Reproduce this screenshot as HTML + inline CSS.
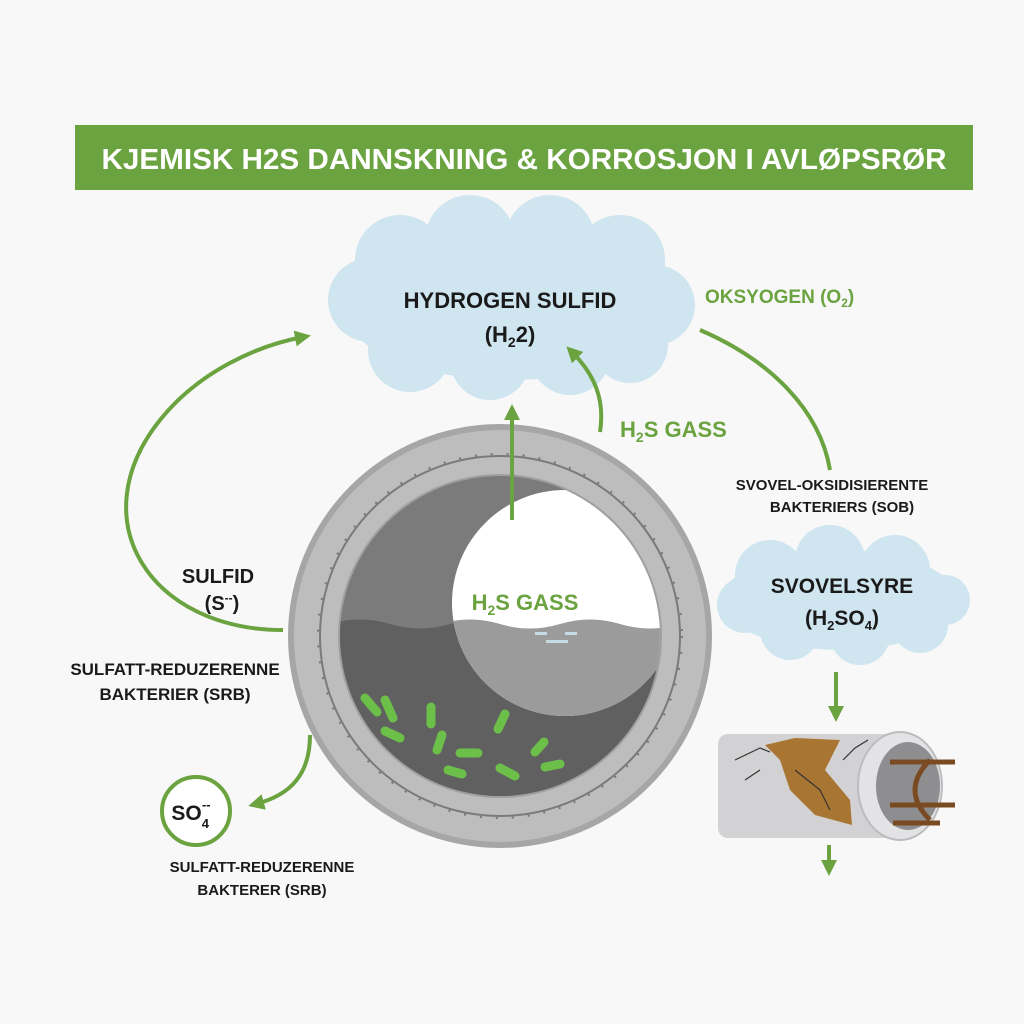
<!DOCTYPE html>
<html><head><meta charset="utf-8"><style>
html,body{margin:0;padding:0;background:#f8f8f8;}
svg{display:block}
text{font-family:"Liberation Sans",sans-serif;font-weight:bold;}
</style></head><body>
<svg width="1024" height="1024" viewBox="0 0 1024 1024" xmlns="http://www.w3.org/2000/svg">
<defs>
<marker id="ah" markerWidth="16" markerHeight="16" refX="8" refY="8" orient="auto" markerUnits="userSpaceOnUse" viewBox="0 0 16 16"><path d="M0,0 L16,8 L0,16 z" fill="#6aa33f"/></marker>
<clipPath id="inner"><circle cx="500" cy="636" r="160"/></clipPath>
<clipPath id="wc"><circle cx="565" cy="603" r="113"/></clipPath>
</defs>
<rect width="1024" height="1024" fill="#f8f8f8"/>
<!-- title -->
<rect x="75" y="125" width="898" height="65" fill="#6aa33f"/>
<text x="524" y="169" text-anchor="middle" font-size="29" fill="#fff" textLength="845" lengthAdjust="spacingAndGlyphs">KJEMISK H2S DANNSKNING &amp; KORROSJON I AVLØPSRØR</text>
<!-- main cloud -->
<g fill="#cfe5ef">
<ellipse cx="510" cy="310" rx="165" ry="70"/>
<circle cx="400" cy="260" r="45"/><circle cx="470" cy="240" r="45"/><circle cx="550" cy="240" r="45"/><circle cx="620" cy="260" r="45"/>
<circle cx="370" cy="300" r="42"/><circle cx="655" cy="305" r="40"/>
<circle cx="410" cy="350" r="42"/><circle cx="490" cy="360" r="40"/><circle cx="570" cy="355" r="40"/><circle cx="630" cy="345" r="38"/>
</g>
<text x="510" y="308" text-anchor="middle" font-size="22" fill="#1a1a1a">HYDROGEN SULFID</text>
<text x="510" y="342" text-anchor="middle" font-size="22" fill="#1a1a1a">(H<tspan font-size="14" dy="5">2</tspan><tspan dy="-5">2)</tspan></text>
<text x="705" y="303" font-size="19" fill="#6aa33f">OKSYOGEN (O<tspan font-size="12" dy="4">2</tspan><tspan dy="-4">)</tspan></text>
<!-- arrows -->
<g fill="none" stroke="#6aa33f" stroke-width="4">
<path d="M283,630 C150,630 80,520 160,420 C200,370 260,345 303,337" marker-end="url(#ah)"/>
<path d="M600,432 C605,400 595,375 572,352" marker-end="url(#ah)"/>
<path d="M700,330 C770,360 820,410 830,470"/>
<path d="M310,735 C310,775 290,795 256,804" marker-end="url(#ah)"/>
<path d="M836,672 L836,714" marker-end="url(#ah)"/>
<path d="M829,845 L829,868" marker-end="url(#ah)"/>
</g>
<text x="620" y="437" font-size="22" fill="#6aa33f">H<tspan font-size="14" dy="5">2</tspan><tspan dy="-5">S GASS</tspan></text>
<text x="832" y="490" text-anchor="middle" font-size="15" fill="#1a1a1a">SVOVEL-OKSIDISIERENTE</text>
<text x="842" y="512" text-anchor="middle" font-size="15" fill="#1a1a1a">BAKTERIERS (SOB)</text>
<!-- pipe -->
<circle cx="500" cy="636" r="212" fill="#a6a6a6"/>
<circle cx="500" cy="636" r="206" fill="#bdbdbd"/>
<circle cx="500" cy="636" r="182" fill="none" stroke="#777" stroke-width="2" stroke-dasharray="2 14"/>
<circle cx="500" cy="636" r="180" fill="none" stroke="#7a7a7a" stroke-width="2"/>
<circle cx="500" cy="636" r="162" fill="#a0a0a0"/>
<g clip-path="url(#inner)">
<rect x="330" y="470" width="340" height="340" fill="#7b7b7b"/>
<path d="M330,624 Q360,615 390,624 T450,624 T510,624 T570,624 T630,624 T690,624 L690,820 L330,820 z" fill="#606060"/>
<circle cx="565" cy="603" r="113" fill="#ffffff"/>
<path clip-path="url(#wc)" d="M440,624 Q470,615 500,624 T560,624 T620,624 T680,624 L680,730 L440,730 z" fill="#9b9b9b"/>
</g>
<path d="M512,520 L512,412" fill="none" stroke="#6aa33f" stroke-width="4" marker-end="url(#ah)"/>
<g fill="#c6dbe4"><rect x="535" y="632" width="12" height="3"/><rect x="565" y="632" width="12" height="3"/><rect x="546" y="640" width="22" height="3"/></g>
<text x="525" y="610" text-anchor="middle" font-size="22" fill="#6aa33f">H<tspan font-size="14" dy="5">2</tspan><tspan dy="-5">S GASS</tspan></text>
<!-- bacteria -->
<g stroke="#6cc04a" stroke-width="9" stroke-linecap="round">
<line x1="365" y1="698" x2="377" y2="712"/><line x1="385" y1="700" x2="393" y2="718"/>
<line x1="385" y1="731" x2="400" y2="738"/><line x1="431" y1="707" x2="431" y2="724"/>
<line x1="442" y1="735" x2="437" y2="750"/><line x1="460" y1="753" x2="478" y2="753"/>
<line x1="448" y1="770" x2="462" y2="774"/><line x1="505" y1="714" x2="498" y2="729"/>
<line x1="500" y1="768" x2="515" y2="776"/><line x1="544" y1="742" x2="535" y2="752"/>
<line x1="545" y1="767" x2="560" y2="764"/>
</g>
<!-- left labels -->
<text x="218" y="583" text-anchor="middle" font-size="20" fill="#1a1a1a">SULFID</text>
<text x="222" y="610" text-anchor="middle" font-size="20" fill="#1a1a1a">(S<tspan font-size="12" dy="-8">--</tspan><tspan dy="8">)</tspan></text>
<text x="175" y="675" text-anchor="middle" font-size="17" fill="#1a1a1a">SULFATT-REDUZERENNE</text>
<text x="175" y="700" text-anchor="middle" font-size="17" fill="#1a1a1a">BAKTERIER (SRB)</text>
<circle cx="196" cy="811" r="34" fill="#fff" stroke="#6aa33f" stroke-width="4"/>
<text x="191" y="820" text-anchor="middle" font-size="21" fill="#1a1a1a">SO<tspan font-size="13" dy="8">4</tspan><tspan font-size="13" dx="-7" dy="-19">--</tspan></text>
<text x="262" y="872" text-anchor="middle" font-size="15" fill="#1a1a1a">SULFATT-REDUZERENNE</text>
<text x="262" y="895" text-anchor="middle" font-size="15" fill="#1a1a1a">BAKTERER (SRB)</text>
<!-- acid cloud -->
<g fill="#cfe5ef">
<ellipse cx="840" cy="600" rx="118" ry="50"/>
<circle cx="770" cy="575" r="35"/><circle cx="830" cy="560" r="35"/><circle cx="895" cy="570" r="35"/>
<circle cx="745" cy="605" r="28"/><circle cx="945" cy="600" r="25"/>
<circle cx="790" cy="630" r="30"/><circle cx="860" cy="635" r="30"/><circle cx="920" cy="625" r="28"/>
</g>
<text x="842" y="593" text-anchor="middle" font-size="21" fill="#1a1a1a">SVOVELSYRE</text>
<text x="842" y="625" text-anchor="middle" font-size="21" fill="#1a1a1a">(H<tspan font-size="13" dy="5">2</tspan><tspan dy="-5">SO</tspan><tspan font-size="13" dy="5">4</tspan><tspan dy="-5">)</tspan></text>
<!-- broken pipe -->
<rect x="718" y="734" width="180" height="104" rx="10" fill="#d2d2d4"/>
<path d="M765,745 L795,738 L840,740 L825,770 L850,800 L852,825 L815,815 L790,790 L780,760 z" fill="#a87532"/>
<ellipse cx="900" cy="786" rx="42" ry="54" fill="#e3e3e5" stroke="#bcbcbf" stroke-width="2"/>
<ellipse cx="908" cy="786" rx="32" ry="44" fill="#8e8e90"/>
<g stroke="#7a4a22" stroke-width="5" fill="none"><line x1="890" y1="762" x2="955" y2="762"/><line x1="890" y1="805" x2="955" y2="805"/><line x1="893" y1="823" x2="940" y2="823"/><path d="M930,760 Q900,790 930,820"/></g>
<g stroke="#333" stroke-width="1.2" fill="none"><path d="M735,760 L760,748 L770,752"/><path d="M745,780 L760,770"/><path d="M843,760 L855,748 L868,740"/><path d="M795,770 L820,790 L830,810"/></g>
</svg>
</body></html>
